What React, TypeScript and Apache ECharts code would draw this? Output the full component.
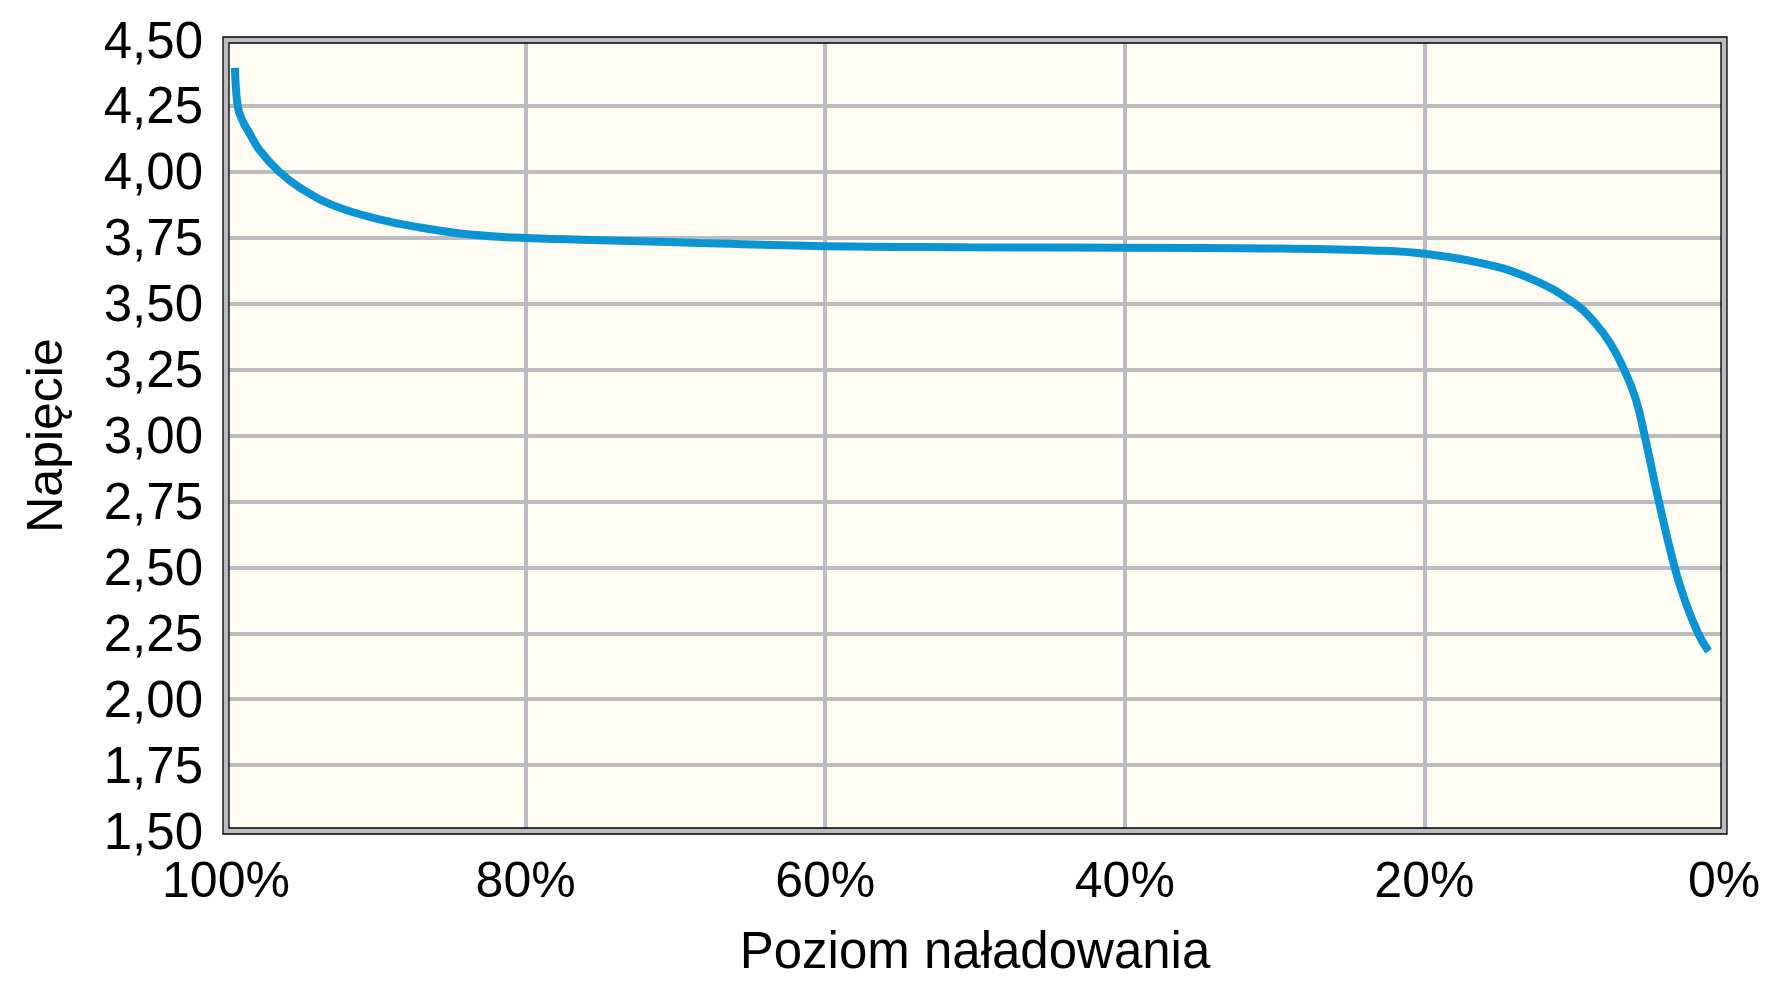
import React, { useEffect, useRef } from "react";
import * as echarts from "echarts";

// Charge level (%) and voltage (V)
const chargeLevel = [99.4, 99.22, 98.93, 98.44, 97.78, 96.44, 94.88, 92.66, 89.77, 87.05, 83.7, 80, 73.7, 68.4, 60, 50.5, 40, 29.6, 23, 20, 16.3, 12.95, 9.95, 8.61, 7.61, 6.67, 5.9, 5.3, 4.35, 3.3, 2.63, 1.73, 1.03];
const voltage = [4.394, 4.25, 4.198, 4.147, 4.084, 4.0, 3.933, 3.869, 3.82, 3.789, 3.762, 3.749, 3.739, 3.73, 3.718, 3.714, 3.712, 3.709, 3.701, 3.689, 3.655, 3.596, 3.5, 3.427, 3.351, 3.25, 3.14, 3.0, 2.75, 2.5, 2.378, 2.25, 2.182];

const xTicks = [0, 20, 40, 60, 80, 100];
const yTicks = [1.5, 4.5, 0.25]; // min, max, interval

const xTitle = "Poziom naładowania";
const yTitle = "Napięcie";

const FONT = "'Liberation Sans', Arial, Helvetica, sans-serif";
const GRID = { left: 226, top: 40, right: 44, bottom: 155 };
const W = 1768;
const H = 986;

export default function App() {
  const ref = useRef<HTMLDivElement>(null);

  useEffect(() => {
    if (!ref.current) return;
    const chart = echarts.init(ref.current, undefined, { renderer: "svg" });
    const data = chargeLevel.map((c, i) => [c, voltage[i]]);
    const gx = GRID.left;
    const gy = GRID.top;
    const gw = W - GRID.left - GRID.right;
    const gh = H - GRID.top - GRID.bottom;

    chart.setOption({
      animation: false,
      backgroundColor: "#ffffff",
      textStyle: { fontFamily: FONT },
      grid: {
        left: GRID.left,
        top: GRID.top,
        right: GRID.right,
        bottom: GRID.bottom,
        show: true,
        backgroundColor: "#fffcf3",
        borderWidth: 0,
        containLabel: false,
      },
      xAxis: {
        type: "value",
        min: xTicks[0],
        max: xTicks[xTicks.length - 1],
        interval: 20,
        inverse: true,
        name: xTitle,
        nameLocation: "middle",
        nameGap: 94,
        nameTextStyle: { fontSize: 51, color: "#000", fontFamily: FONT },
        axisLine: { show: false },
        axisTick: { show: false },
        axisLabel: {
          show: true,
          showMinLabel: true,
          showMaxLabel: true,
          margin: 24,
          fontSize: 50,
          color: "#000",
          fontFamily: FONT,
          formatter: (v: number) => `${v}%`,
        },
        splitLine: { show: true, lineStyle: { color: "#bbbcc0", width: 4 } },
      },
      yAxis: {
        type: "value",
        min: yTicks[0],
        max: yTicks[1],
        interval: yTicks[2],
        name: yTitle,
        nameLocation: "middle",
        nameRotate: 90,
        nameGap: 156,
        nameTextStyle: { fontSize: 50, color: "#000", fontFamily: FONT },
        axisLine: { show: false },
        axisTick: { show: false },
        axisLabel: {
          margin: 23,
          fontSize: 51,
          color: "#000",
          fontFamily: FONT,
          formatter: (v: number) => v.toFixed(2).replace(".", ","),
        },
        splitLine: { show: true, lineStyle: { color: "#bbbcc0", width: 4 } },
      },
      graphic: [
        {
          type: "rect",
          silent: true,
          z: 10,
          shape: { x: gx, y: gy, width: gw, height: gh },
          style: { fill: "none", stroke: "#bbbcc0", lineWidth: 6 },
        },
        {
          type: "rect",
          silent: true,
          z: 11,
          shape: { x: gx - 3, y: gy - 3, width: gw + 6, height: gh + 6 },
          style: { fill: "none", stroke: "#000", lineWidth: 1.3 },
        },
        {
          type: "rect",
          silent: true,
          z: 11,
          shape: { x: gx + 3, y: gy + 3, width: gw - 6, height: gh - 6 },
          style: { fill: "none", stroke: "#000", lineWidth: 1.3 },
        },
      ],
      series: [
        {
          type: "line",
          data,
          showSymbol: false,
          symbol: "none",
          smooth: 0.45,
          lineStyle: { color: "#0a94d4", width: 8, cap: "butt" },
          z: 5,
        },
      ],
    });

    return () => chart.dispose();
  }, []);

  return (
    <div
      ref={ref}
      style={{ position: "absolute", left: 0, top: 0, width: W, height: H }}
    />
  );
}
